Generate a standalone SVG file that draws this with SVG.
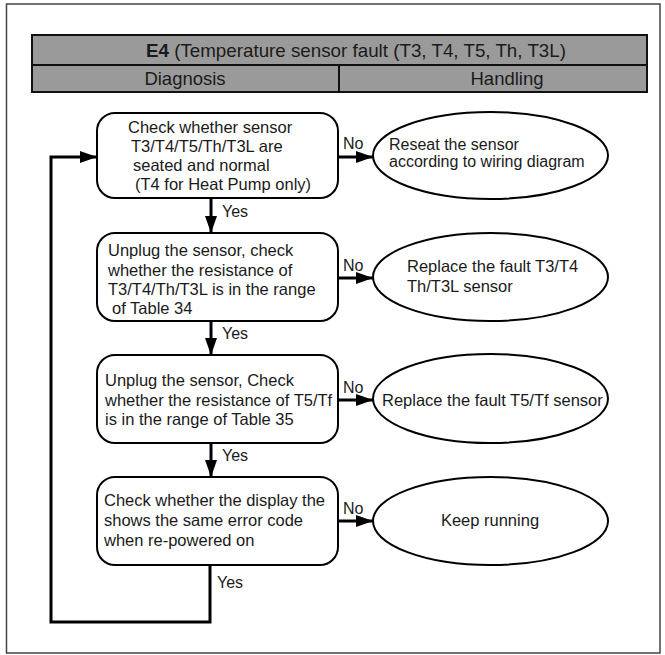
<svg xmlns="http://www.w3.org/2000/svg" width="665" height="655" viewBox="0 0 665 655">
<style>
.t{font-family:"Liberation Sans",Arial,sans-serif;font-size:16.5px;fill:#1a1a1a}
.s{font-family:"Liberation Sans",Arial,sans-serif;font-size:16px;fill:#1a1a1a}
.h{font-family:"Liberation Sans",Arial,sans-serif;font-size:18.5px;fill:#1a1a1a}
.box{fill:#fff;stroke:#000;stroke-width:2}
.hdr{fill:#9a9a9a;stroke:#111;stroke-width:2}
.c{fill:none;stroke:#000;stroke-width:3}
.lbl{font-family:"Liberation Sans",Arial,sans-serif;font-size:16px;fill:#1a1a1a}
</style>
<defs>
<marker id="ah" markerUnits="userSpaceOnUse" markerWidth="17" markerHeight="12" refX="17" refY="6" orient="auto">
<path d="M0,0 L17,6 L0,12 z" fill="#000"/>
</marker>
</defs>
<rect x="0" y="0" width="665" height="655" fill="#fff"/>
<rect id="frame" x="6.5" y="4" width="653.5" height="649" fill="none" stroke="#444" stroke-width="1.5"/>
<g id="header">
<rect class="hdr" x="32" y="35" width="615" height="30"/>
<rect class="hdr" x="32" y="65" width="307" height="27"/>
<rect class="hdr" x="339" y="65" width="308" height="27"/>
<text class="h" x="146" y="57" textLength="420" lengthAdjust="spacingAndGlyphs"><tspan font-weight="bold">E4</tspan>  (Temperature sensor fault (T3, T4, T5, Th, T3L)</text>
<text class="h" x="185" y="85" text-anchor="middle">Diagnosis</text>
<text class="h" x="507" y="85" text-anchor="middle">Handling</text>
</g>
<g id="connectors">
<line class="c" x1="338" y1="157" x2="373" y2="157" marker-end="url(#ah)"/>
<line class="c" x1="338" y1="278" x2="373" y2="278" marker-end="url(#ah)"/>
<line class="c" x1="338" y1="400" x2="373" y2="400" marker-end="url(#ah)"/>
<line class="c" x1="338" y1="521" x2="373" y2="521" marker-end="url(#ah)"/>
<line class="c" x1="211" y1="198" x2="211" y2="233" marker-end="url(#ah)"/>
<line class="c" x1="211" y1="321" x2="211" y2="355" marker-end="url(#ah)"/>
<line class="c" x1="211" y1="443" x2="211" y2="477" marker-end="url(#ah)"/>
<polyline class="c" points="210,565 210,622 51,622 51,157 97,157" marker-end="url(#ah)"/>
<text class="lbl" x="343" y="149">No</text>
<text class="lbl" x="343" y="271">No</text>
<text class="lbl" x="343" y="393">No</text>
<text class="lbl" x="343" y="514">No</text>
<text class="lbl" x="222" y="217">Yes</text>
<text class="lbl" x="222" y="339">Yes</text>
<text class="lbl" x="222" y="461">Yes</text>
<text class="lbl" x="217" y="588">Yes</text>
</g>
<g id="box1">
<rect class="box" x="97" y="113" width="241" height="85" rx="18"/>
<text class="t" x="128" y="133">Check whether sensor</text>
<text class="t" x="131" y="152">T3/T4/T5/Th/T3L are</text>
<text class="t" x="133" y="171">seated and normal</text>
<text class="t" x="135" y="190">(T4 for Heat Pump only)</text>
</g>
<g id="box2">
<rect class="box" x="97" y="233" width="241" height="88" rx="18"/>
<text class="t" x="108" y="256">Unplug the sensor, check</text>
<text class="t" x="108" y="276">whether the resistance of</text>
<text class="t" x="108" y="295">T3/T4/Th/T3L is in the range</text>
<text class="t" x="112" y="314">of Table 34</text>
</g>
<g id="box3">
<rect class="box" x="97" y="355" width="241" height="88" rx="18"/>
<text class="t" x="105" y="386">Unplug the sensor, Check</text>
<text class="t" x="105" y="406">whether the resistance of T5/Tf</text>
<text class="t" x="105" y="425">is in the range of Table 35</text>
</g>
<g id="box4">
<rect class="box" x="97" y="477" width="241" height="88" rx="18"/>
<text class="t" x="104" y="506">Check whether the display the</text>
<text class="t" x="104" y="526">shows the same error code</text>
<text class="t" x="104" y="546">when re-powered on</text>
</g>
<g id="ell1">
<ellipse class="box" cx="490.5" cy="155.5" rx="117.5" ry="43.5"/>
<text class="s" x="389" y="150">Reseat the sensor</text>
<text class="s" x="389" y="167">according to wiring diagram</text>
</g>
<g id="ell2">
<ellipse class="box" cx="490.5" cy="277" rx="117.5" ry="44"/>
<text class="t" x="407" y="272">Replace the fault T3/T4</text>
<text class="t" x="407" y="292">Th/T3L sensor</text>
</g>
<g id="ell3">
<ellipse class="box" cx="490.5" cy="398.5" rx="117.5" ry="44.5"/>
<text class="t" x="382" y="406">Replace the fault T5/Tf sensor</text>
</g>
<g id="ell4">
<ellipse class="box" cx="490.5" cy="521" rx="117.5" ry="44"/>
<text class="t" x="490" y="526" text-anchor="middle">Keep running</text>
</g>
</svg>
